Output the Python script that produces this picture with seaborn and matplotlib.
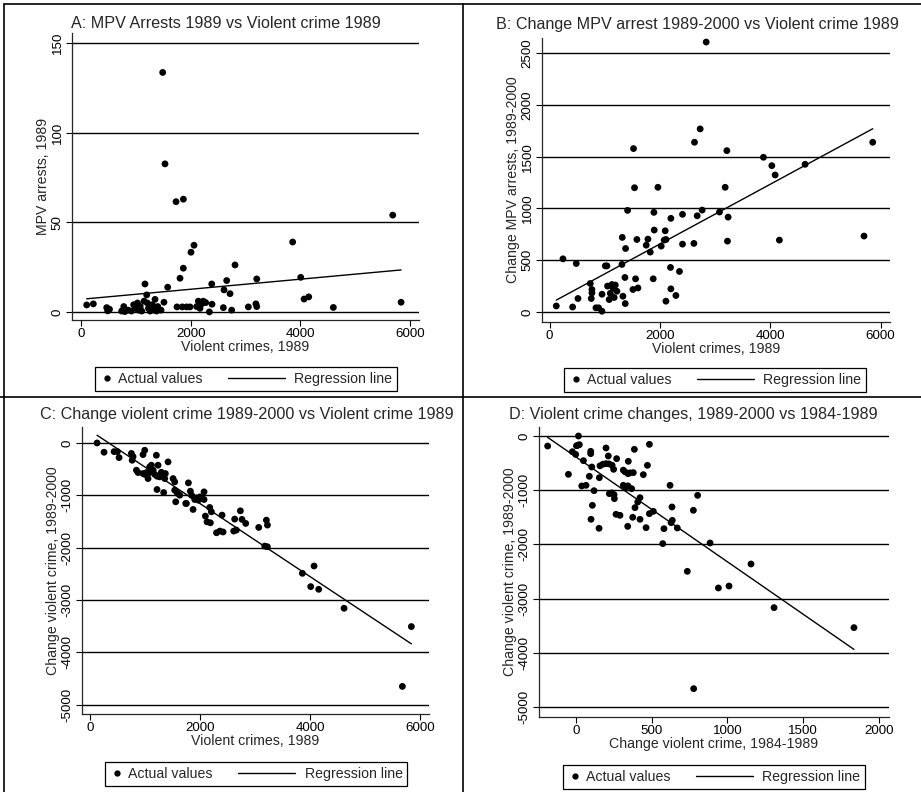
import numpy as np
import pandas as pd
import matplotlib
matplotlib.use("Agg")
import matplotlib.pyplot as plt
import seaborn as sns
from matplotlib.lines import Line2D
from matplotlib.legend_handler import HandlerLine2D

# ---------------- data ----------------
# Panel A: MPV arrests 1989 vs violent crimes 1989
a_x = [104, 225, 469, 487, 520, 742, 780, 800, 860, 920, 960, 1000, 1030, 1050, 1080, 1107,
       1150, 1167, 1198, 1210, 1230, 1260, 1300, 1330, 1350, 1380, 1400, 1460, 1490, 1513,
       1532, 1581, 1733, 1751, 1806, 1848, 1866, 1867, 1927, 1988, 2006, 2061, 2110, 2140,
       2170, 2200, 2230, 2274, 2341, 2384, 2389, 2596, 2608, 2657, 2718, 2748, 2809, 3052,
       3190, 3205, 3205, 3860, 4007, 4068, 4153, 4602, 5685, 5837]
a_y = [3.9, 4.5, 2.4, 0.6, 1.5, 0.5, 3, 0.2, 1, 0.5, 4, 2, 5, 1, 3, 0.5,
       6, 15.6, 9.5, 5, 2, 0.5, 4, 1, 7, 0.5, 3, 1, 133.6, 5.4,
       82.6, 13.8, 61.5, 2.8, 18.8, 2.8, 24.4, 62.9, 2.8, 2.8, 33.3, 37.2, 3, 6,
       2, 4.5, 6, 5.2, 0, 15.6, 4.3, 2.4, 12.3, 17.5, 10.2, 1, 26.2, 2.8,
       4.5, 3, 18.4, 39, 19.3, 7.2, 8.4, 2.5, 54, 5.4]

# Panel B: change MPV arrests 1989-2000 vs violent crimes 1989
b_x = [121, 242, 417, 483, 514, 737, 767, 767, 755, 840, 888, 949, 950, 1010, 1039, 1050,
       1080, 1100, 1130, 1150, 1170, 1190, 1220, 1311, 1317, 1329, 1365, 1371, 1377, 1413,
       1510, 1521, 1539, 1558, 1582, 1601, 1751, 1782, 1824, 1878, 1890, 1896, 1963, 2023,
       2077, 2095, 2110, 2108, 2191, 2198, 2198, 2289, 2354, 2409, 2409, 2615, 2626, 2675,
       2729, 2765, 2838, 3079, 3182, 3213, 3224, 3236, 3876, 4028, 4088, 4165, 4631, 5699, 5857]
b_y = [58, 513, 48, 468, 130, 275, 217, 184, 130, 40, 40, 7, 171, 445, 445, 250,
       120, 180, 265, 230, 140, 260, 200, 459, 720, 152, 333, 81, 613, 981,
       217, 1578, 1200, 320, 700, 232, 645, 703, 578, 320, 962, 791, 1204, 636,
       694, 784, 700, 104, 430, 904, 223, 159, 391, 943, 655, 662, 1639, 929,
       1768, 984, 2607, 965, 1204, 1558, 684, 916, 1494, 1413, 1323, 694, 1426, 733, 1639]

# Panel C: change violent crime 1989-2000 vs violent crimes 1989
c_x = [133, 260, 442, 502, 532, 756, 770, 786, 847, 877, 967, 998, 967, 1000, 1030, 1058,
       1088, 1119, 1088, 1150, 1180, 1209, 1221, 1221, 1240, 1270, 1300, 1342, 1361, 1372,
       1421, 1512, 1542, 1542, 1560, 1590, 1633, 1742, 1754, 1790, 1826, 1850, 1875, 1905,
       1935, 1970, 2000, 2040, 2074, 2074, 2098, 2128, 2177, 2189, 2207, 2300, 2360, 2401,
       2419, 2612, 2630, 2660, 2733, 2763, 2830, 3066, 3175, 3205, 3224, 3223, 3858, 4009,
       4070, 4154, 4614, 5835, 5672]
c_y = [0, -177, -165, -165, -279, -200, -330, -260, -520, -565, -222, -139, -584, -600, -565, -680,
       -457, -425, -565, -520, -600, -235, -635, -889, -425, -647, -560, -947, -680, -584,
       -362, -680, -743, -902, -1124, -960, -997, -1156, -1156, -762, -921, -1000, -1270, -1080,
       -1050, -1092, -1030, -1060, -934, -1080, -1397, -1506, -1232, -1525, -1315, -1715, -1683, -1378,
       -1700, -1683, -1454, -1664, -1296, -1460, -1537, -1613, -1970, -1474, -1568, -1982, -2490, -2744,
       -2350, -2795, -3157, -3507, -4650]

# Panel D: change violent crime 1989-2000 vs change 1984-1989
d_x = [-185, -48, -22, 0, 5, 15, 24, 18, 51, 40, 68, 90, 99, 99, 106, 110, 101, 121, 154, 156,
       200, 215, 160, 180, 200, 220, 240, 250, 270, 222, 238, 253, 255, 266, 292, 314, 325, 345,
       358, 347, 314, 330, 345, 369, 387, 380, 376, 343, 391, 409, 424, 424, 446, 464, 473, 486,
       486, 512, 574, 582, 622, 635, 629, 637, 670, 736, 776, 804, 886, 778, 941, 1011, 1156,
       1308, 1835]
d_y = [-185, -707, -290, -340, -180, -170, -160, 0, -455, -922, -910, -744, -283, -326, -572, -1279,
       -1537, -1009, -1703, -769, -221, -369, -550, -520, -510, -515, -540, -615, -418, -1064, -1050,
       -1082, -1156, -1445, -1464, -630, -660, -695, -680, -467, -910, -940, -920, -972, -246, -676,
       -1500, -1667, -1322, -1218, -1138, -1537, -713, -1691, -541, -154, -1433, -1390, -1986, -1710,
       -910, -1310, -1600, -1556, -1697, -2497, -1371, -1095, -1974, -4662, -2804, -2768, -2362,
       -3167, -3536]

titles = ["A: MPV Arrests 1989 vs Violent crime 1989",
          "B: Change MPV arrest 1989-2000 vs Violent crime 1989",
          "C: Change violent crime 1989-2000 vs Violent crime 1989",
          "D: Violent crime changes, 1989-2000 vs 1984-1989"]
xlabels = ["Violent crimes, 1989", "Violent crimes, 1989",
           "Violent crimes, 1989", "Change violent crime, 1984-1989"]
ylabels = ["MPV arrests, 1989", "Change MPV arrests, 1989-2000",
           "Change violent crime, 1989-2000", "Change violent crime, 1989-2000"]
xticks = [[0, 2000, 4000, 6000]] * 3 + [[0, 500, 1000, 1500, 2000]]
yticks = [[0, 50, 100, 150], [0, 500, 1000, 1500, 2000, 2500],
          [0, -1000, -2000, -3000, -4000, -5000], [0, -1000, -2000, -3000, -4000, -5000]]
legend_labels = ["Actual values", "Regression line"]

# ---------------- style ----------------
sns.set_style("ticks")
plt.rcParams["font.family"] = ["Liberation Sans", "DejaVu Sans"]
plt.rcParams["axes.linewidth"] = 0.9

W, H = 921, 792
fig = plt.figure(figsize=(W / 100, H / 100), dpi=100)

def rect(l, t, r, b):
    return [l / W, 1 - b / H, (r - l) / W, (b - t) / H]

# axes pixel boxes (left, top, right, bottom)
boxes = [(72, 33, 419, 320), (542, 38, 890, 322), (82, 427, 429, 714), (539, 427, 889, 717)]
xlims = [(-164, 6164), (-138, 6170), (-140, 6155), (-242, 2066)]
ylims = [(-4.5, 155.6), (-97, 2646), (-5177, 305), (-5185, 166)]
title_pos = [(226, 24), (697, 25), (247, 415), (693, 415)]
legend_pos = [(246, 379), (715, 380), (256, 774), (714, 777)]

panels = [(a_x, a_y), (b_x, b_y), (c_x, c_y), (d_x, d_y)]

LEG_FS = 10.2
EXT = 3.4      # line handle extends this many em to the left of its handle box
GAP = 0.4      # line ends this many em before its text


class DotHandler(HandlerLine2D):
    def create_artists(self, legend, orig_handle, xdescent, ydescent, width, height,
                       fontsize, trans):
        arts = super().create_artists(legend, orig_handle, xdescent, ydescent, width,
                                      height, fontsize, trans)
        return arts


class LongLineHandler(HandlerLine2D):
    def create_artists(self, legend, orig_handle, xdescent, ydescent, width, height,
                       fontsize, trans):
        arts = super().create_artists(legend, orig_handle, xdescent, ydescent, width,
                                      height, fontsize, trans)
        for a in arts:
            if isinstance(a, Line2D):
                x0 = -xdescent - EXT * fontsize
                x1 = width - xdescent - GAP * fontsize
                a.set_xdata(np.linspace(x0, x1, 3))
        return arts


for i, (xs, ys) in enumerate(panels):
    ax = fig.add_axes(rect(*boxes[i]))
    df = pd.DataFrame({"x": xs, "y": ys})
    ax.set_axisbelow(True)
    for yt in yticks[i]:
        ax.axhline(yt, color="black", lw=1.0, zorder=0)
    sns.scatterplot(data=df, x="x", y="y", ax=ax, color="black", s=24,
                    edgecolor="none", zorder=3, legend=False)
    sns.regplot(data=df, x="x", y="y", ax=ax, scatter=False, ci=None, truncate=True,
                line_kws=dict(color="black", lw=1.0, zorder=4))
    ax.set_xlim(*xlims[i])
    ax.set_ylim(*ylims[i])
    ax.set_xticks(xticks[i])
    ax.set_yticks(yticks[i])
    ax.set_xticklabels([str(v) for v in xticks[i]], fontsize=9.6)
    ax.set_yticklabels([str(v) for v in yticks[i]], fontsize=9.6, rotation=90, va="center")
    ax.tick_params(length=4, width=0.8, pad=2, colors="black")
    sns.despine(ax=ax)
    ax.set_xlabel(xlabels[i], fontsize=10.2, labelpad=0)
    ax.set_ylabel(ylabels[i], fontsize=10.2, labelpad=1)
    fig.text(title_pos[i][0] / W, 1 - title_pos[i][1] / H, titles[i], ha="center",
             va="center", fontsize=11.6)
    dot = Line2D([], [], marker="o", ls="none", color="black", markersize=3.5)
    line = Line2D([], [], color="black", lw=1.0)
    leg = fig.legend([dot, line], legend_labels, loc="center",
                     bbox_to_anchor=(legend_pos[i][0] / W, 1 - legend_pos[i][1] / H),
                     ncol=2, fontsize=LEG_FS, frameon=True, fancybox=False,
                     edgecolor="black", handlelength=1.0, handletextpad=0.3,
                     columnspacing=1.8 + EXT, borderpad=0.32, borderaxespad=0,
                     handler_map={dot: DotHandler(), line: LongLineHandler()})
    leg.get_frame().set_linewidth(0.9)
    leg.get_frame().set_alpha(1)

# panel frame lines
frame_kw = dict(color="black", lw=1.2, transform=fig.transFigure)
fig.add_artist(Line2D([4 / W, 4 / W], [0, 1 - 4 / H], **frame_kw))
fig.add_artist(Line2D([4 / W, 1], [1 - 4 / H, 1 - 4 / H], **frame_kw))
fig.add_artist(Line2D([463 / W, 463 / W], [0, 1 - 4 / H], **frame_kw))
fig.add_artist(Line2D([0, 1], [1 - 397 / H, 1 - 397 / H], **frame_kw))

fig.savefig("out.png", dpi=100)
